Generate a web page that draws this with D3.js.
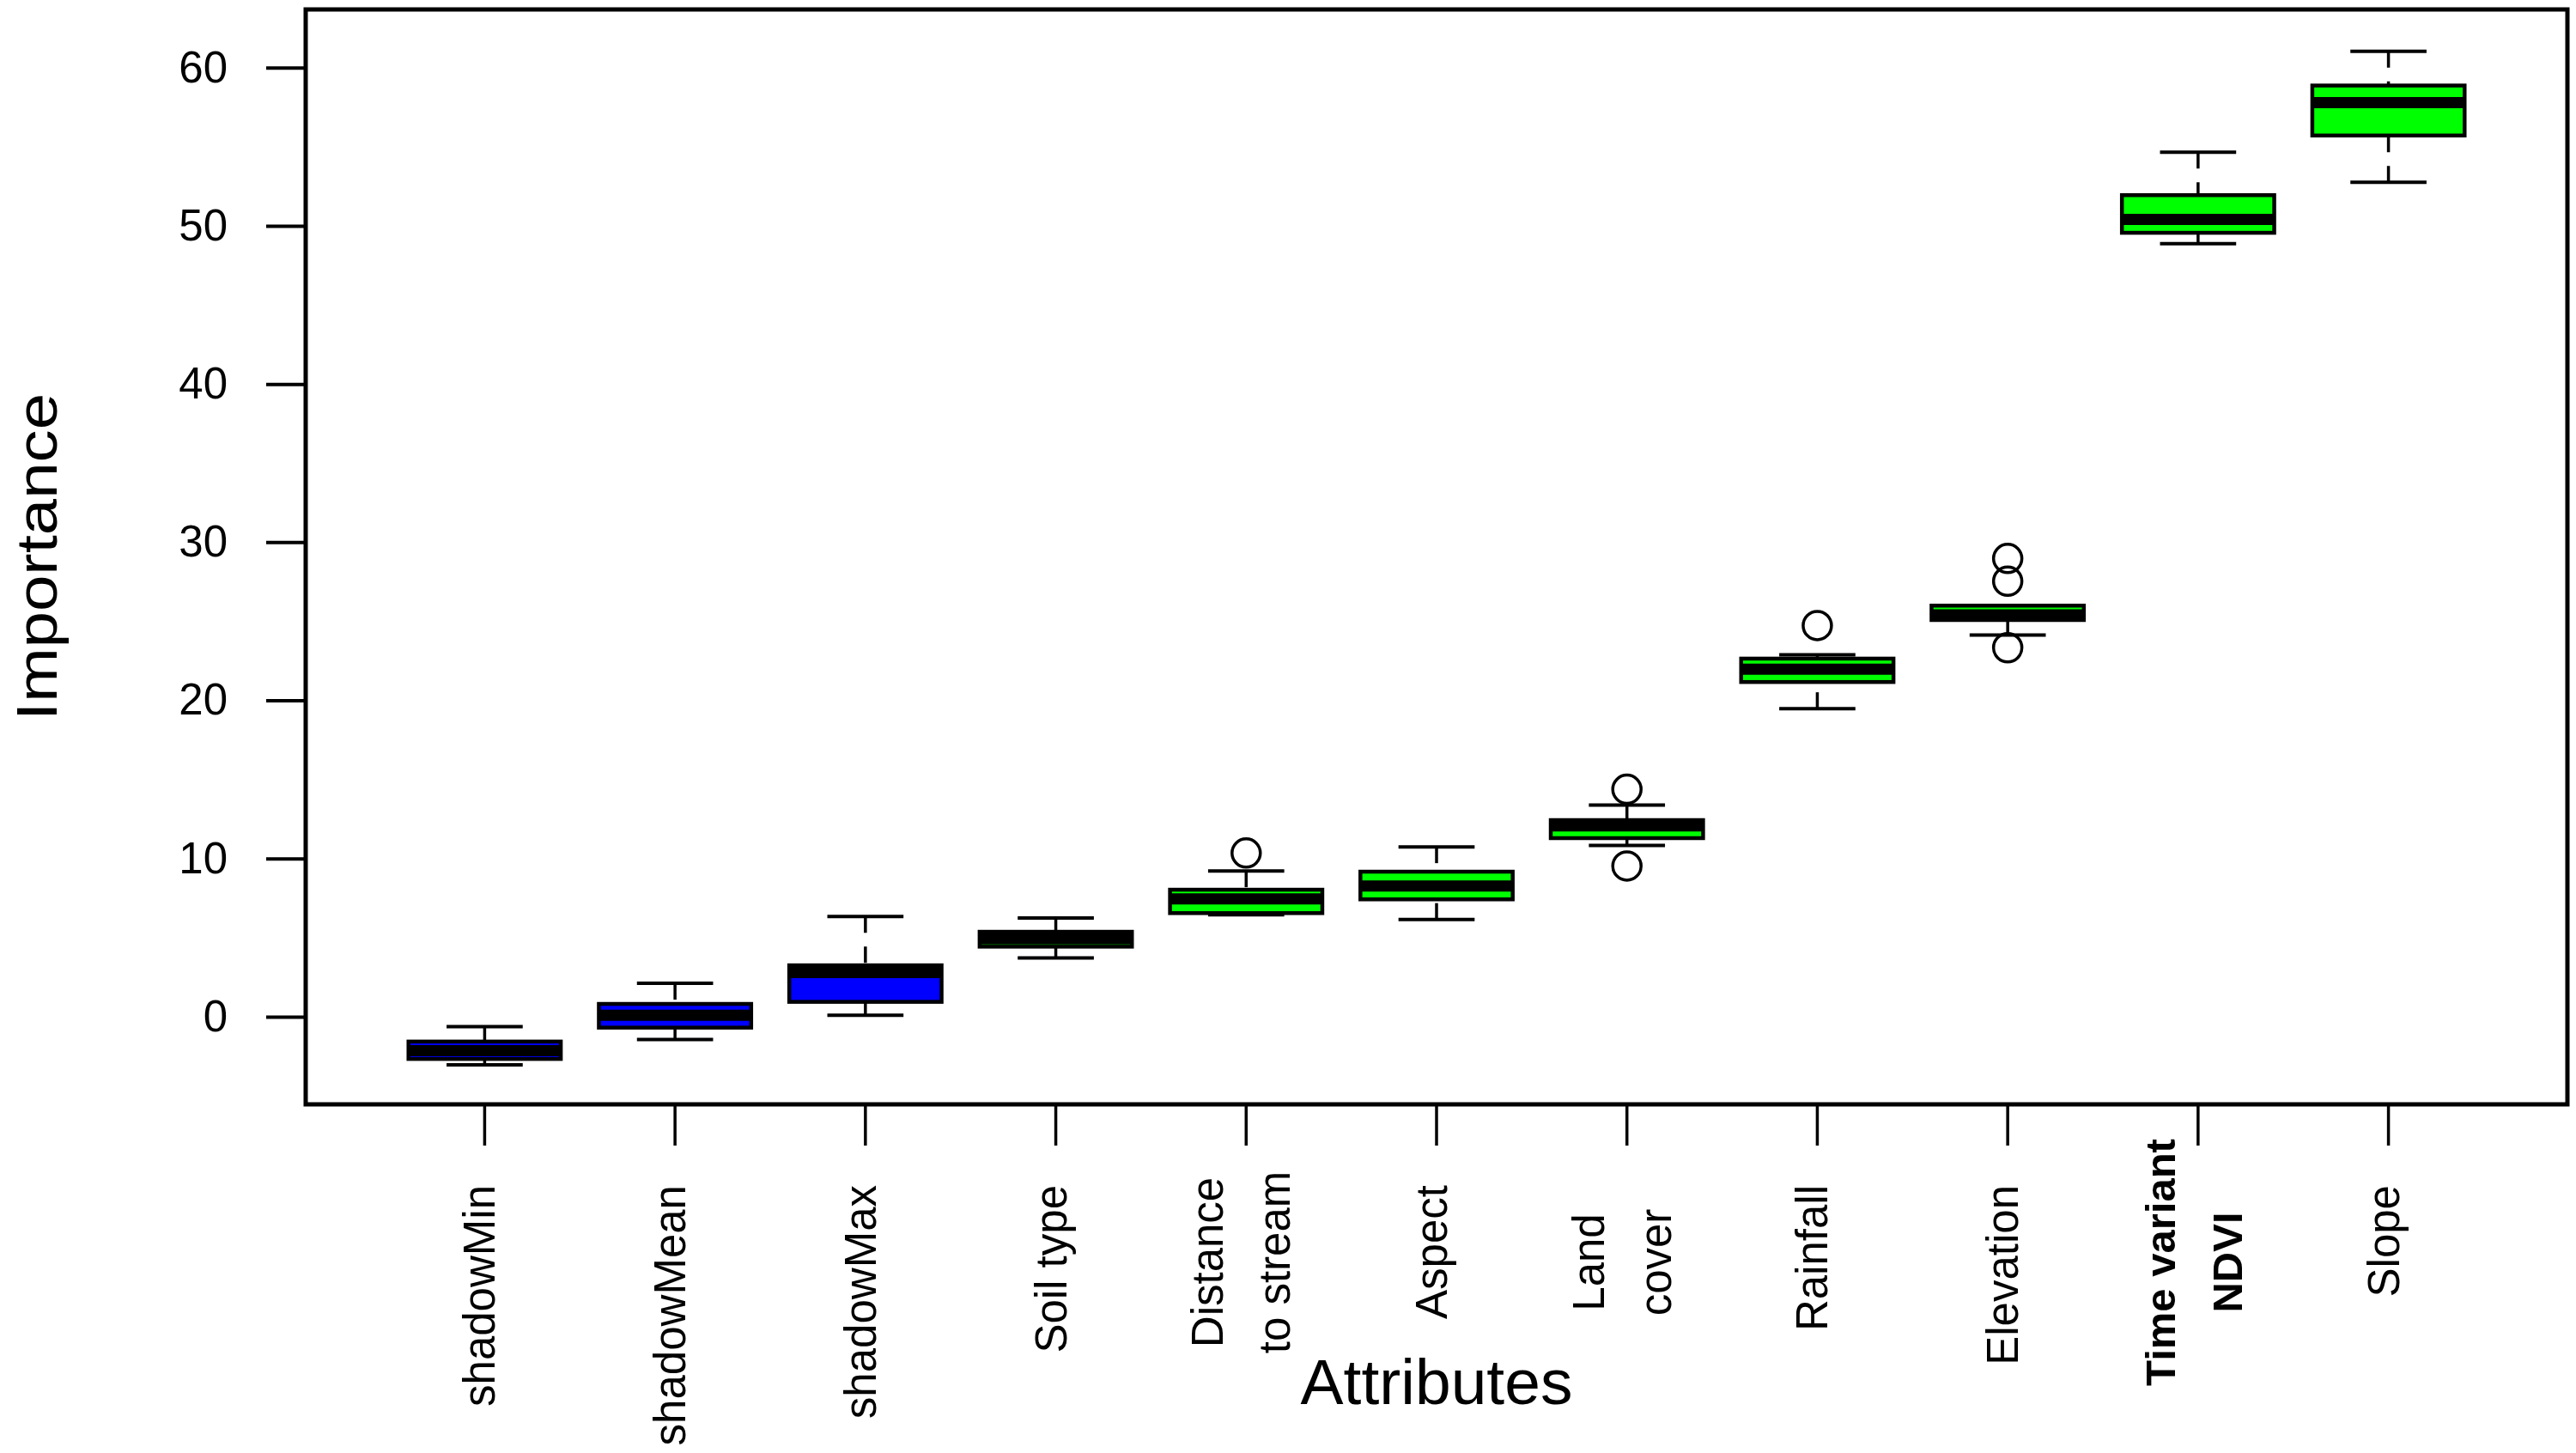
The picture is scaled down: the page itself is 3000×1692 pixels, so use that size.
<!DOCTYPE html>
<html>
<head>
<meta charset="utf-8">
<title>Attribute importance</title>
<script src="https://cdnjs.cloudflare.com/ajax/libs/d3/7.8.5/d3.min.js"></script>
<style>
    body { margin: 0; background: #fff; }
    svg { display: block; }
    text { font-family: "Liberation Sans", Arial, sans-serif; fill: #000; }
</style>
</head>
<body>
<svg id="chart" width="3000" height="1692"></svg>
<script>
// data
const categories = ["shadowMin", "shadowMean", "shadowMax", "Soil type", "Distance to stream",
    "Aspect", "Land cover", "Rainfall", "Elevation", "Time variant NDVI", "Slope"];
const labelLines = [["shadowMin"], ["shadowMean"], ["shadowMax"], ["Soil type"], ["Distance", "to stream"],
    ["Aspect"], ["Land", "cover"], ["Rainfall"], ["Elevation"], ["Time variant", "NDVI"], ["Slope"]];
const decision = ["shadow", "shadow", "shadow", "confirmed", "confirmed",
    "confirmed", "confirmed", "confirmed", "confirmed", "confirmed", "confirmed"];
const whiskerLow = [-3.04, -1.44, 0.09, 3.71, 6.45, 6.15, 10.83, 19.48, 24.13, 48.87, 52.76];
const q1 = [-2.67, -0.69, 0.94, 4.43, 6.55, 7.42, 11.29, 21.16, 25.08, 49.56, 55.71];
const median = [-2.15, 0.09, 2.8, 4.92, 7.45, 8.26, 12.06, 21.97, 25.4, 50.41, 57.79];
const q3 = [-1.57, 0.81, 3.25, 5.37, 8.03, 9.17, 12.43, 22.64, 25.99, 51.94, 58.87];
const whiskerHigh = [-0.63, 2.11, 6.33, 6.24, 9.22, 10.74, 13.38, 22.88, 25.99, 54.66, 61.04];
const outliers = [[], [], [], [], [10.35], [], [14.38, 9.53], [24.73], [28.97, 27.53, 23.33], [], []];
const yTicks = [0, 10, 20, 30, 40, 50, 60];

const boldLabel = "Time variant NDVI";

const svg = d3.select("#chart");
const frame = { left: 356, right: 2990, top: 11, bottom: 1286 };

const x = d3.scaleBand()
    .domain(categories)
    .range([frame.left, frame.right])
    .paddingInner(0.2)
    .paddingOuter(0.54);
const bw = x.bandwidth();

const y = d3.scaleLinear()
    .domain([-5.54, 63.68])
    .range([frame.bottom, frame.top]);

const fill = d3.scaleOrdinal()
    .domain(["shadow", "confirmed"])
    .range(["#0000ff", "#00ff00"]);

const boxes = categories.map((c, i) => ({
    name: c,
    lines: labelLines[i],
    group: decision[i],
    lo: whiskerLow[i], q1: q1[i], med: median[i], q3: q3[i], hi: whiskerHigh[i],
    out: outliers[i]
}));

//axes
const yAxis = d3.axisLeft(y)
    .tickValues(yTicks)
    .tickSize(46)
    .tickSizeOuter(0)
    .tickPadding(45);

const gy = svg.append("g")
    .attr("transform", `translate(${frame.left},0)`)
    .call(yAxis);
gy.select(".domain").remove();
gy.selectAll(".tick line").attr("stroke", "#000").attr("stroke-width", 4);
gy.selectAll(".tick text")
    .attr("font-size", 51)
    .attr("font-family", "Liberation Sans, Arial, sans-serif")
    .attr("fill", "#000");

const xAxis = d3.axisBottom(x)
    .tickSize(48)
    .tickSizeOuter(0)
    .tickFormat("");

const gx = svg.append("g")
    .attr("transform", `translate(0,${frame.bottom})`)
    .call(xAxis);
gx.select(".domain").remove();
gx.selectAll(".tick line").attr("stroke", "#000").attr("stroke-width", 3.5);

// rotated category labels
const labelTop = 1380;
const labelMid = 1470;
const lineGap = 78;

boxes.forEach(function (b) {
    const cx = x(b.name) + bw / 2;
    const n = b.lines.length;
    b.lines.forEach(function (line, k) {
        const tx = cx + 12 + (k - (n - 1) / 2) * lineGap;
        const ty = n > 1 ? labelMid : labelTop;
        svg.append("text")
            .attr("transform", `translate(${tx},${ty}) rotate(-90)`)
            .attr("text-anchor", n > 1 ? "middle" : "end")
            .attr("font-size", b.name === boldLabel ? 49 : 51)
            .attr("font-weight", b.name === boldLabel ? "bold" : "normal")
            .text(line);
    });
});

// whiskers (dashed, drawn from the staple towards the box)
const plot = svg.append("g");

plot.selectAll(".whisker-hi")
    .data(boxes)
    .join("line")
    .attr("class", "whisker-hi")
    .attr("x1", d => x(d.name) + bw / 2)
    .attr("x2", d => x(d.name) + bw / 2)
    .attr("y1", d => y(d.hi))
    .attr("y2", d => y(d.q3))
    .attr("stroke", "#000")
    .attr("stroke-width", 3.5)
    .attr("stroke-dasharray", "19,16");

plot.selectAll(".whisker-lo")
    .data(boxes)
    .join("line")
    .attr("class", "whisker-lo")
    .attr("x1", d => x(d.name) + bw / 2)
    .attr("x2", d => x(d.name) + bw / 2)
    .attr("y1", d => y(d.lo))
    .attr("y2", d => y(d.q1))
    .attr("stroke", "#000")
    .attr("stroke-width", 3.5)
    .attr("stroke-dasharray", "19,16");

// staples
["hi", "lo"].forEach(function (key) {
    plot.selectAll(".staple-" + key)
        .data(boxes)
        .join("line")
        .attr("class", "staple-" + key)
        .attr("x1", d => x(d.name) + bw / 4)
        .attr("x2", d => x(d.name) + bw * 3 / 4)
        .attr("y1", d => y(d[key]))
        .attr("y2", d => y(d[key]))
        .attr("stroke", "#000")
        .attr("stroke-width", 4);
});

// boxes
plot.selectAll(".box")
    .data(boxes)
    .join("rect")
    .attr("class", "box")
    .attr("x", d => x(d.name))
    .attr("width", bw)
    .attr("y", d => y(d.q3))
    .attr("height", d => y(d.q1) - y(d.q3))
    .attr("fill", d => fill(d.group))
    .attr("stroke", "#000")
    .attr("stroke-width", 4.5);

// medians
plot.selectAll(".median")
    .data(boxes)
    .join("line")
    .attr("class", "median")
    .attr("x1", d => x(d.name))
    .attr("x2", d => x(d.name) + bw)
    .attr("y1", d => y(d.med))
    .attr("y2", d => y(d.med))
    .attr("stroke", "#000")
    .attr("stroke-width", 13);

// outliers
const outPoints = boxes.flatMap(d => d.out.map(v => ({ name: d.name, value: v })));
plot.selectAll(".outlier")
    .data(outPoints)
    .join("circle")
    .attr("class", "outlier")
    .attr("cx", d => x(d.name) + bw / 2)
    .attr("cy", d => y(d.value))
    .attr("r", 16.5)
    .attr("fill", "none")
    .attr("stroke", "#000")
    .attr("stroke-width", 3.5);

// frame
svg.append("rect")
    .attr("x", frame.left)
    .attr("y", frame.top)
    .attr("width", frame.right - frame.left)
    .attr("height", frame.bottom - frame.top)
    .attr("fill", "none")
    .attr("stroke", "#000")
    .attr("stroke-width", 5);

// axis titles
svg.append("text")
    .attr("transform", `translate(66,${(frame.top + frame.bottom) / 2}) rotate(-90)`)
    .attr("text-anchor", "middle")
    .attr("font-size", 66)
    .attr("textLength", 381)
    .attr("lengthAdjust", "spacingAndGlyphs")
    .text("Importance");

svg.append("text")
    .attr("x", (frame.left + frame.right) / 2)
    .attr("y", 1635)
    .attr("text-anchor", "middle")
    .attr("font-size", 75)
    .text("Attributes");
</script>
</body>
</html>
